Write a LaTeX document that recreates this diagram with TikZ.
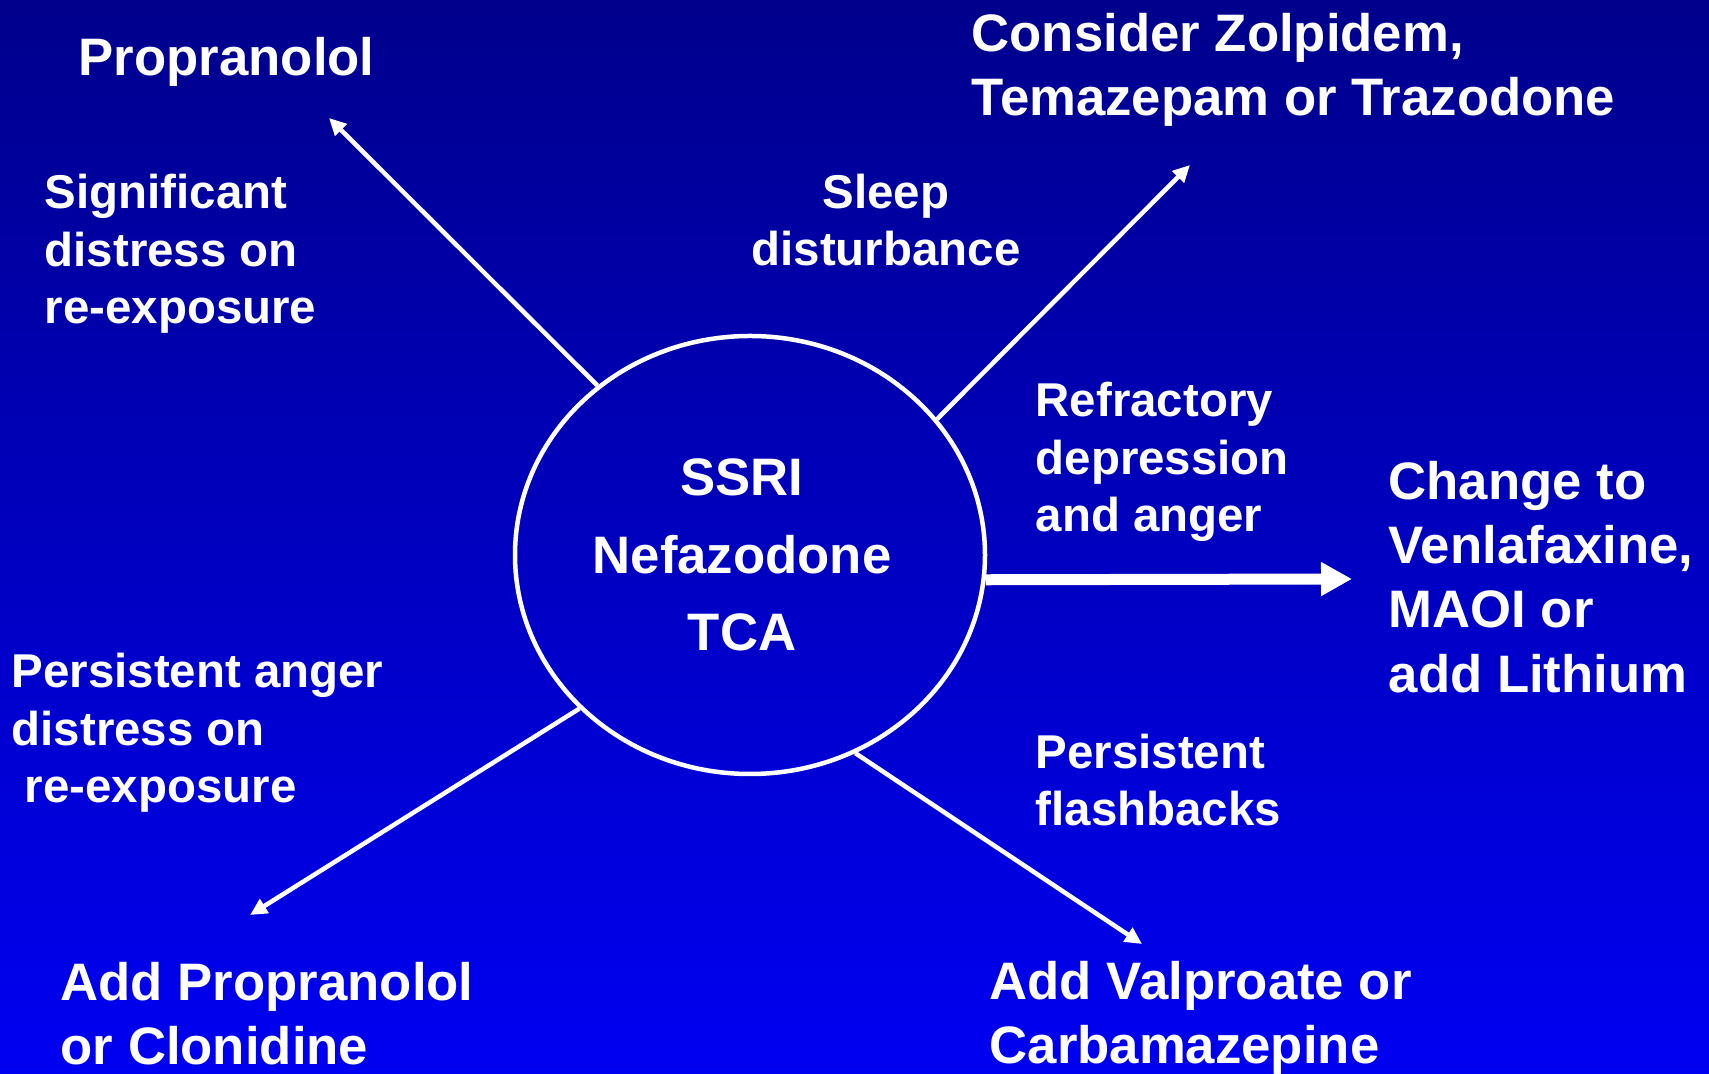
\documentclass[tikz,border=0pt]{standalone}
\usepackage{fontspec}
\setmainfont{Liberation Sans}
\usetikzlibrary{positioning,shapes.geometric,arrows.meta}
\definecolor{slidetop}{RGB}{0,0,140}
\definecolor{slidebottom}{RGB}{0,0,242}

\begin{document}
\begin{tikzpicture}[
    hub/.style={ellipse, draw=white, line width=0.045cm, minimum width=4.70cm, minimum height=4.38cm, inner sep=0pt},
    hubtxt/.style={text=white, inner sep=0pt, align=center, font=\bfseries\fontsize{15pt}{22pt}\selectfont},
    bigtxt/.style={text=white, inner sep=0pt, anchor=west, align=left, font=\bfseries\fontsize{15pt}{18.3pt}\selectfont},
    smalltxt/.style={text=white, inner sep=0pt, anchor=west, align=left, font=\bfseries\fontsize{13.5pt}{16.4pt}\selectfont},
    thinarrow/.style={draw=white, line width=0.045cm, -{Triangle[length=0.17cm, width=0.16cm]}},
    thickarrow/.style={draw=white, line width=0.11cm, -{Triangle[length=0.31cm, width=0.32cm]}}
]

% Background
\useasboundingbox (0,0) rectangle (17.09,10.74);
\shade[top color=slidetop, bottom color=slidebottom] (0,0) rectangle (17.09,10.74);

% Centre
\node[hub] (ring) at (7.50,5.19) {};
\node[hubtxt] (drugs) at (7.42,5.19) {SSRI\\Nefazodone\\TCA};

% Outcomes
\node[bigtxt] (propr) at (0.78,10.12) {Propranolol};
\node[bigtxt] (hypn) at (9.71,10.04) {Consider Zolpidem,\\Temazepam or Trazodone};
\node[bigtxt] (change) at (13.88,4.97) {Change to\\Venlafaxine,\\MAOI or\\add Lithium};
\node[bigtxt] (clon) at (0.60,0.60) {Add Propranolol\\or Clonidine};
\node[bigtxt] (valp) at (9.89,0.56) {Add Valproate or\\Carbamazepine};

% Conditions
\node[smalltxt] (distress) at (0.44,8.20) {Significant\\distress on\\re-exposure};
\node[smalltxt, anchor=center, align=center] (sleep) at (8.86,8.54) {Sleep\\disturbance};
\node[smalltxt] (refr) at (10.35,6.12) {Refractory\\depression\\and anger};
\node[smalltxt] (anger) at (0.11,3.41) {Persistent anger\\distress on\\\hspace{0.278em}re-exposure};
\node[smalltxt] (flash) at (10.35,2.94) {Persistent\\flashbacks};

% Arrow tips
\coordinate (tipNW) at (3.29,9.56);
\coordinate (tipNE) at (11.90,9.09);
\coordinate (tipE) at (13.52,4.95);
\coordinate (tipSW) at (2.50,1.59);
\coordinate (tipSE) at (11.42,1.30);

% Arrows
\draw[thinarrow] (ring.132) -- (tipNW);
\draw[thinarrow] (ring.36) -- (tipNE);
\draw[thickarrow] (ring.-6) -- (tipE);
\draw[thinarrow] (ring.222) -- (tipSW);
\draw[thinarrow] (ring.298) -- (tipSE);

\end{tikzpicture}
\end{document}
